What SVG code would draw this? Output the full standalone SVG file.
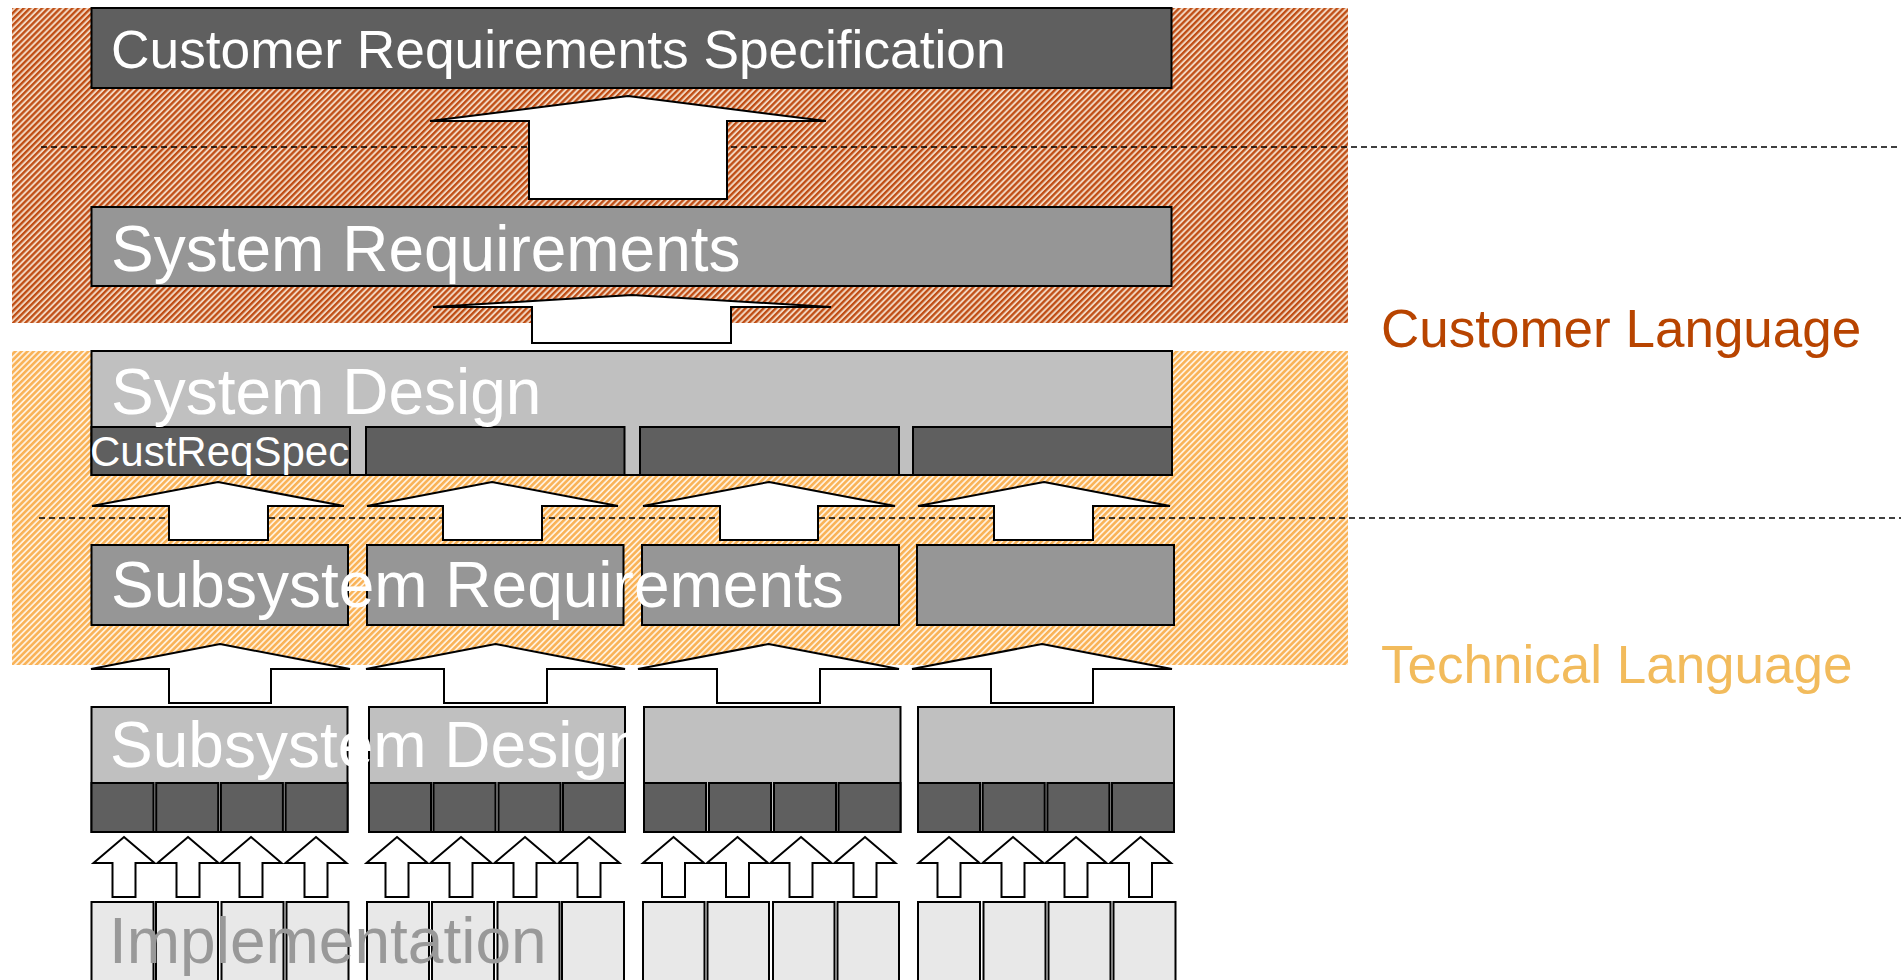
<svg xmlns="http://www.w3.org/2000/svg" width="1901" height="980" viewBox="0 0 1901 980">
<defs>
<pattern id="hatchRed" patternUnits="userSpaceOnUse" width="4.3" height="4.3" patternTransform="rotate(45)">
<rect width="4.3" height="4.3" fill="#f2d6c0"/>
<rect width="2.3" height="4.3" fill="#bf4d14"/>
</pattern>
<pattern id="hatchOrange" patternUnits="userSpaceOnUse" width="4.3" height="4.3" patternTransform="rotate(45)">
<rect width="4.3" height="4.3" fill="#fff0dc"/>
<rect width="2.5" height="4.3" fill="#f9b256"/>
</pattern>
<clipPath id="clipSubDesign"><rect x="80" y="700" width="546" height="140"/></clipPath>
</defs>
<style>
.box{stroke:#000;stroke-width:2}
.dark{fill:#5f5f5f}
.mid{fill:#969696}
.light{fill:#c0c0c0}
.impl{fill:#e8e8e8}
.arrow{fill:#fff;stroke:#000;stroke-width:2;stroke-linejoin:miter}
.dash{stroke:#000;stroke-width:1.6;stroke-dasharray:6 4;fill:none}
.t{font-family:"Liberation Sans",Arial,sans-serif;fill:#fff}
.big{font-size:64px}
.lang{font-family:"Liberation Sans",Arial,sans-serif;font-size:53px}
</style>

<g id="zones">
<rect id="customer-zone" x="12" y="8" width="1336" height="315" fill="url(#hatchRed)"/>
<rect id="technical-zone" x="12" y="351" width="1336" height="314" fill="url(#hatchOrange)"/>
</g>

<g id="dividers">
<line class="dash" x1="41" y1="147" x2="1901" y2="147"/>
<line class="dash" x1="39" y1="518" x2="1901" y2="518"/>
</g>

<g id="node-crs">
<rect class="box dark" x="91.5" y="8" width="1080" height="80"/>
<text class="t" x="111" y="68" font-size="53.3">Customer Requirements Specification</text>
</g>

<g id="node-sysreq">
<rect class="box mid" x="91.5" y="207" width="1080" height="79"/>
<text class="t big" x="111" y="271">System Requirements</text>
</g>

<g id="node-sysdesign">
<rect class="box light" x="91.5" y="351" width="1080.5" height="124"/>
<rect class="box dark" x="91.5" y="427" width="258.5" height="48"/>
<rect class="box dark" x="366" y="427" width="258.5" height="48"/>
<rect class="box dark" x="640" y="427" width="259" height="48"/>
<rect class="box dark" x="913" y="427" width="259" height="48"/>
<text class="t big" x="111" y="414">System Design</text>
<text class="t" x="90" y="466" font-size="42">CustReqSpec</text>
</g>

<g id="node-subreq">
<rect class="box mid" x="91.5" y="545" width="256.5" height="80"/>
<rect class="box mid" x="367" y="545" width="256.5" height="80"/>
<rect class="box mid" x="642" y="545" width="257" height="80"/>
<rect class="box mid" x="917" y="545" width="257" height="80"/>
<text class="t big" x="111" y="607">Subsystem Requirements</text>
</g>

<g id="node-subdesign">
<rect class="box light" x="91.5" y="707" width="256" height="125"/>
<rect class="box light" x="369" y="707" width="256" height="125"/>
<rect class="box light" x="644" y="707" width="256.5" height="125"/>
<rect class="box light" x="918" y="707" width="256" height="125"/>
<g class="box dark">
<rect x="91.5" y="783" width="62" height="49"/><rect x="156.2" y="783" width="62" height="49"/><rect x="220.9" y="783" width="62" height="49"/><rect x="285.6" y="783" width="62" height="49"/>
<rect x="369" y="783" width="62" height="49"/><rect x="433.5" y="783" width="62" height="49"/><rect x="498.5" y="783" width="62" height="49"/><rect x="563" y="783" width="62" height="49"/>
<rect x="644" y="783" width="62" height="49"/><rect x="709" y="783" width="62" height="49"/><rect x="774" y="783" width="62" height="49"/><rect x="838.5" y="783" width="62" height="49"/>
<rect x="918" y="783" width="62" height="49"/><rect x="982.7" y="783" width="62" height="49"/><rect x="1047.4" y="783" width="62" height="49"/><rect x="1112" y="783" width="62" height="49"/>
</g>
<text class="t big" x="110" y="767" clip-path="url(#clipSubDesign)">Subsystem Design</text>
</g>

<g id="node-implementation">
<g class="box impl">
<rect x="91.5" y="902" width="62" height="100"/><rect x="156" y="902" width="62" height="100"/><rect x="221.5" y="902" width="62" height="100"/><rect x="286.5" y="902" width="62" height="100"/>
<rect x="367" y="902" width="62" height="100"/><rect x="432" y="902" width="62" height="100"/><rect x="497.5" y="902" width="62" height="100"/><rect x="562" y="902" width="62" height="100"/>
<rect x="643" y="902" width="61.5" height="100"/><rect x="707.5" y="902" width="61.5" height="100"/><rect x="773" y="902" width="61.5" height="100"/><rect x="837.5" y="902" width="61.5" height="100"/>
<rect x="918" y="902" width="62" height="100"/><rect x="983.5" y="902" width="62" height="100"/><rect x="1048.5" y="902" width="62" height="100"/><rect x="1113.5" y="902" width="62" height="100"/>
</g>
<text class="t big" x="109" y="963" style="fill:#999999">Implementation</text>
</g>

<g id="connectors">
<polygon class="arrow" points="628,96 826,121 727,121 727,199 529,199 529,121 430,121"/>
<polygon class="arrow" points="632,295 831,307 731,307 731,343 532,343 532,307 433,307"/>
<g id="arrows-sysdesign-subreq">
<polygon class="arrow" points="218,482 344,506 268,506 268,540 169,540 169,506 92,506"/>
<polygon class="arrow" points="492,482 618,506 542,506 542,540 443,540 443,506 367,506"/>
<polygon class="arrow" points="769,482 895,506 818,506 818,540 720,540 720,506 643,506"/>
<polygon class="arrow" points="1044,482 1170,506 1093,506 1093,540 994,540 994,506 918,506"/>
</g>
<g id="arrows-subreq-subdesign">
<polygon class="arrow" points="220,644 350,669 271,669 271,703 169,703 169,669 91,669"/>
<polygon class="arrow" points="495.5,644 625,669 547,669 547,703 444,703 444,669 366,669"/>
<polygon class="arrow" points="768.5,644 899,669 820,669 820,703 717,703 717,669 638,669"/>
<polygon class="arrow" points="1042,644 1172,669 1093,669 1093,703 991,703 991,669 912,669"/>
</g>
<g id="arrows-impl-subdesign">
<polygon class="arrow" points="124,837 154.5,863 135.5,863 135.5,897 112.5,897 112.5,863 93.5,863"/>
<polygon class="arrow" points="188,837 218.5,863 199.5,863 199.5,897 176.5,897 176.5,863 157.5,863"/>
<polygon class="arrow" points="251,837 281.5,863 262.5,863 262.5,897 239.5,897 239.5,863 220.5,863"/>
<polygon class="arrow" points="316,837 346.5,863 327.5,863 327.5,897 304.5,897 304.5,863 285.5,863"/>
<polygon class="arrow" points="397,837 427.5,863 408.5,863 408.5,897 385.5,897 385.5,863 366.5,863"/>
<polygon class="arrow" points="461,837 491.5,863 472.5,863 472.5,897 449.5,897 449.5,863 430.5,863"/>
<polygon class="arrow" points="525,837 555.5,863 536.5,863 536.5,897 513.5,897 513.5,863 494.5,863"/>
<polygon class="arrow" points="589,837 619.5,863 600.5,863 600.5,897 577.5,897 577.5,863 558.5,863"/>
<polygon class="arrow" points="673.5,837 704,863 685,863 685,897 662,897 662,863 643,863"/>
<polygon class="arrow" points="737.5,837 768,863 749,863 749,897 726,897 726,863 707,863"/>
<polygon class="arrow" points="801,837 831.5,863 812.5,863 812.5,897 789.5,897 789.5,863 770.5,863"/>
<polygon class="arrow" points="865,837 895.5,863 876.5,863 876.5,897 853.5,897 853.5,863 834.5,863"/>
<polygon class="arrow" points="949,837 979.5,863 960.5,863 960.5,897 937.5,897 937.5,863 918.5,863"/>
<polygon class="arrow" points="1013,837 1043.5,863 1024.5,863 1024.5,897 1001.5,897 1001.5,863 982.5,863"/>
<polygon class="arrow" points="1076,837 1106.5,863 1087.5,863 1087.5,897 1064.5,897 1064.5,863 1045.5,863"/>
<polygon class="arrow" points="1140.5,837 1171,863 1152,863 1152,897 1129,897 1129,863 1110,863"/>
</g>
</g>

<g id="labels">
<text class="lang" x="1381" y="347" fill="#b84400">Customer Language</text>
<text class="lang" x="1381" y="683" fill="#f2bb5c" font-size="54">Technical Language</text>
</g>
</svg>
